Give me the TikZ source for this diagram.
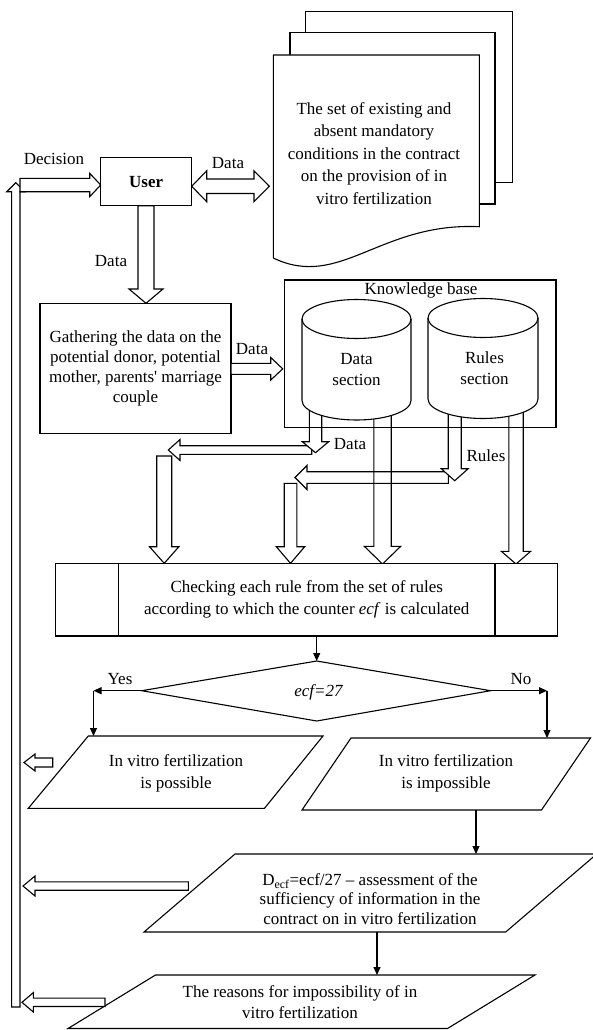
\documentclass[tikz,border=0pt]{standalone}
\usepackage{fontspec}
\setmainfont{Liberation Serif}
\usetikzlibrary{arrows.meta}
% block arrows: [style]{centre}{start}{tip}{shaft half}{head half}{head length}
\newcommand\blkdown[7][]{\draw[blk,#1] ({#2-#5},{#3}) -- ({#2-#5},{#4-#7}) -- ({#2-#6},{#4-#7}) -- ({#2},{#4}) -- ({#2+#6},{#4-#7}) -- ({#2+#5},{#4-#7}) -- ({#2+#5},{#3}) -- cycle;}
\newcommand\blkup[7][]{\draw[blk,#1] ({#2-#5},{#3}) -- ({#2-#5},{#4+#7}) -- ({#2-#6},{#4+#7}) -- ({#2},{#4}) -- ({#2+#6},{#4+#7}) -- ({#2+#5},{#4+#7}) -- ({#2+#5},{#3}) -- cycle;}
\newcommand\blkleft[7][]{\draw[blk,#1] ({#3},{#2-#5}) -- ({#4+#7},{#2-#5}) -- ({#4+#7},{#2-#6}) -- ({#4},{#2}) -- ({#4+#7},{#2+#6}) -- ({#4+#7},{#2+#5}) -- ({#3},{#2+#5}) -- cycle;}
\newcommand\blkright[7][]{\draw[blk,#1] ({#3},{#2-#5}) -- ({#4-#7},{#2-#5}) -- ({#4-#7},{#2-#6}) -- ({#4},{#2}) -- ({#4-#7},{#2+#6}) -- ({#4-#7},{#2+#5}) -- ({#3},{#2+#5}) -- cycle;}
\begin{document}
\begin{tikzpicture}[x=1pt,y=-1pt,line width=1.1pt,
  txt/.style={font=\fontsize{17}{21}\selectfont, inner sep=0pt, align=center},
  blk/.style={draw, fill=white, line width=1.1pt, line join=miter},
  con/.style={draw, line width=1.1pt, -{Triangle[length=8pt,width=7pt]}},
  box/.style={draw, fill=white, line width=1.1pt, inner sep=0pt, align=center, font=\fontsize{17}{21}\selectfont}]
\fill[white] (0,0) rectangle (592,1030);
\useasboundingbox (0,0) rectangle (592,1030);

% ---------- stack of documents
\draw[fill=white] (305.7,11.7) rectangle (512.3,182.7);
\draw[fill=white] (290,32.7) rectangle (495,204);
\draw[fill=white] (273.3,55) -- (479.3,55) -- (479.3,226.7)
   .. controls (380,222) and (340,290) .. (273.3,258) -- cycle;
\node[txt, font=\fontsize{17}{22.5}\selectfont] (doc) at (374,153.5)
  {The set of existing and\\ absent mandatory\\ conditions in the contract\\ on the provision of in\\ vitro fertilization};

% ---------- user
\node[box, minimum width=91pt, minimum height=48pt, font=\bfseries\fontsize{17}{21}\selectfont] (user) at (146.2,181.7) {User};

% left return arrow (up) and decision arrow
\blkup{15.8}{1007}{182.7}{4.2}{9}{9}
\blkright{185}{20}{100.7}{6.7}{11.7}{11}
\node[txt] (ldec) at (54,159) {Decision};

% double arrow user <-> documents
\draw[blk] (191.7,186.3) -- (206.7,170.8) -- (206.7,179) -- (254,179) -- (254,170.8) -- (269.3,186.3)
   -- (254,201.7) -- (254,193.5) -- (206.7,193.5) -- (206.7,201.7) -- cycle;
\node[txt] (ldata1) at (228,163) {Data};

% user -> gathering
\blkdown{146}{205.7}{303.3}{8}{17}{14.3}
\node[txt] (ldata2) at (111,261) {Data};

% ---------- gathering
\node[box, minimum width=191pt, minimum height=130pt, font=\fontsize{17}{20}\selectfont] (gather) at (135.5,368.3)
  {Gathering the data on the\\ potential donor, potential\\ mother, parents\textquotesingle\ marriage\\ couple};

\blkright{368.8}{231}{282.7}{5.5}{11.3}{12}
\node[txt] (ldata3) at (252,349) {Data};

% ---------- arrows below knowledge base
\blkdown{164.2}{456}{563.3}{7.5}{14.7}{16.6}
\blkleft{450}{311.7}{168.3}{4.3}{10.5}{11.7}
\blkdown{315.5}{405}{452.7}{6.2}{13.2}{11}
\blkdown{290.5}{483.3}{563.3}{6.3}{14.2}{16.6}
\blkleft{477.5}{448.3}{295}{5.8}{12}{12}
\blkdown{454.7}{405}{480.7}{6.5}{13.5}{12}
\blkdown[fill=none]{382.5}{405}{564}{8.7}{18.2}{17.7}
\blkdown{516}{405}{564}{7.2}{14.7}{12.7}
\node[txt] (ldata4) at (350,444.5) {Data};
\node[txt] (lrules) at (486,455.5) {Rules};

% ---------- knowledge base
\draw[fill=white] (302,319) -- (302,400.5) arc[start angle=180,end angle=360,x radius=54.5pt,y radius=19.5pt]
   -- (411,319) arc[start angle=0,end angle=180,x radius=54.5pt,y radius=19.5pt] -- cycle;
\draw (302,319) arc[start angle=180,end angle=360,x radius=54.5pt,y radius=19.5pt];
\draw[fill=white] (428,318) -- (428,399) arc[start angle=180,end angle=360,x radius=55pt,y radius=19.5pt]
   -- (538,318) arc[start angle=0,end angle=180,x radius=55pt,y radius=19.5pt] -- cycle;
\draw (428,318) arc[start angle=180,end angle=360,x radius=55pt,y radius=19.5pt];
\node[txt] (dsec) at (356.5,370) {Data\\ section};
\node[txt] (rsec) at (484.5,368) {Rules\\ section};
\node[draw, line width=1.1pt, inner sep=0pt, minimum width=271.7pt, minimum height=147.7pt] (kb) at (420.15,353.85) {};
\node[txt] (lkb) at (421,290.5) {Knowledge base};

% ---------- checking box
\node[box, minimum width=501.9pt, minimum height=72.7pt, font=\fontsize{17}{22}\selectfont] (check) at (306.75,599.65)
  {Checking each rule from the set of rules\\ according to which the counter \textit{ecf} is calculated};
\draw (118.9,563.3) -- (118.9,636);
\draw (495,563.3) -- (495,636);

% ---------- decision diamond
\coordinate (dT) at (316.7,661);
\coordinate (dR) at (490.6,690.7);
\coordinate (dB) at (316.7,721);
\coordinate (dL) at (141.7,690.7);
\draw (dT) -- (dR) -- (dB) -- (dL) -- cycle;
\node[txt, font=\itshape\fontsize{17}{21}\selectfont] (cond) at (318.5,692) {ecf=27};
\draw[con] (dT |- check.south) -- (dT);
\node[txt] (lyes) at (120,679) {Yes};
\node[txt] (lno) at (521,679) {No};
\coordinate (yesC) at (93.5,690.7);
\coordinate (noC) at (547,690.7);

% ---------- parallelogram: possible
\coordinate (p1a) at (28.3,808.3);
\coordinate (p1b) at (88.3,736);
\coordinate (p1c) at (323,736);
\coordinate (p1d) at (264.5,808.3);
\draw (p1a) -- (p1b) -- (p1c) -- (p1d) -- cycle;
\node[txt, font=\fontsize{17}{22}\selectfont] (pos) at (176,773) {In vitro fertilization\\ is possible};

% ---------- parallelogram: impossible
\coordinate (p2a) at (302,810);
\coordinate (p2b) at (351,738);
\coordinate (p2c) at (590.5,738);
\coordinate (p2d) at (541.5,810);
\draw (p2a) -- (p2b) -- (p2c) -- (p2d) -- cycle;
\node[txt, font=\fontsize{17}{22}\selectfont] (imp) at (446,773.5) {In vitro fertilization\\ is impossible};

\draw[con] (dL) -- (yesC);
\draw[con] (yesC) -- (yesC |- p1b);
\draw[con] (dR) -- (noC);
\draw[con] (noC) -- (noC |- p2b);

% ---------- parallelogram: D_ecf
\coordinate (p3a) at (144,932);
\coordinate (p3b) at (235,854);
\coordinate (p3c) at (596.7,854);
\coordinate (p3d) at (505.7,932);
\draw (p3a) -- (p3b) -- (p3c) -- (p3d) -- cycle;
\node[txt, font=\fontsize{17}{19.5}\selectfont] (dec) at (370,899)
  {D\textsubscript{ecf}=ecf/27 – assessment of the\\ sufficiency of information in the\\ contract on in vitro fertilization};
\coordinate (o2) at (476,810);
\draw[con] (o2) -- (o2 |- p3b);

% ---------- parallelogram: reasons
\coordinate (p4a) at (68,1028.5);
\coordinate (p4b) at (155.5,975);
\coordinate (p4c) at (535,975);
\coordinate (p4d) at (447.5,1028.5);
\draw (p4a) -- (p4b) -- (p4c) -- (p4d) -- cycle;
\node[txt] (rea) at (300,1002.3) {The reasons for impossibility of in\\ vitro fertilization};
\coordinate (o3) at (377,932);
\draw[con] (o3) -- (o3 |- p4b);

% ---------- return arrows on the left
\blkleft{762.5}{52.7}{24}{4.5}{8.5}{11}
\blkleft{886}{188.3}{23}{4.2}{10}{12}
\blkleft{1002.3}{105}{22}{4.2}{9.7}{11.3}
\end{tikzpicture}
\end{document}
